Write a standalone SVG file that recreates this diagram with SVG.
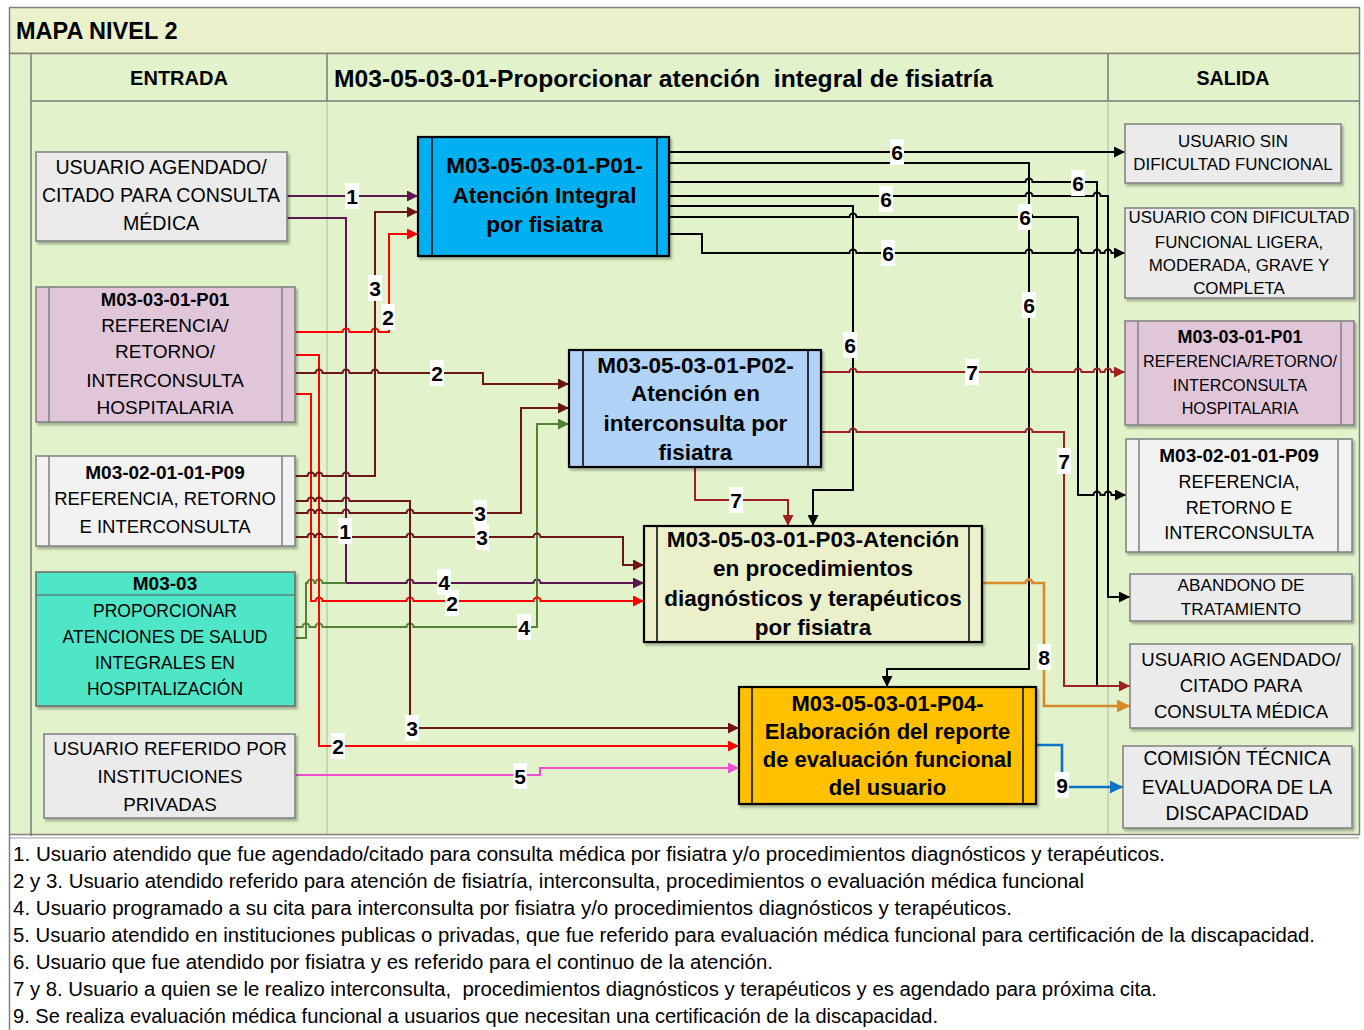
<svg xmlns="http://www.w3.org/2000/svg" width="1364" height="1030" viewBox="0 0 1364 1030">
<style>
text{font-family:"Liberation Sans",Arial,sans-serif;fill:#000}
.b{font-weight:bold}
.c{text-anchor:middle}
.ln{fill:none;stroke-width:2}
.blk{stroke:#000}.pur{stroke:#5a1650}.brn{stroke:#6e1616}.red{stroke:#ff0000}.grn{stroke:#548235}
.pnk{stroke:#ef4fcf}.dr{stroke:#a21f1f}.org{stroke:#d88a2a;stroke-width:2.6}.blu{stroke:#0b74c6;stroke-width:2.6}
.gbox{fill:#ebebeb;stroke:#7f7f7f;stroke-width:1.5}
.wbox{fill:#f2f2f2;stroke:#7f7f7f;stroke-width:1.5}
.pbox{fill:#e1c6da;stroke:#7f7f7f;stroke-width:1.5}
.tbox{fill:#4fe6c8;stroke:#6a6a6a;stroke-width:1.5}
.mbox{stroke:#000;stroke-width:2.2}
.in{stroke:#000;stroke-width:1.5}
.ing{stroke:#7f7f7f;stroke-width:1.5}
.lb{fill:#fff}
.lt{font-weight:bold;font-size:21px;text-anchor:middle}
.lg{font-size:19.5px}
</style>
<defs>
<filter id="sh" x="-5%" y="-5%" width="115%" height="120%"><feDropShadow dx="2" dy="2.5" stdDeviation="1.2" flood-color="#000" flood-opacity="0.28"/></filter>
<marker id="a-blk" markerWidth="11" markerHeight="11" refX="11" refY="5.5" orient="auto" markerUnits="userSpaceOnUse"><path d="M0,0 L11,5.5 L0,11 z" fill="#000"/></marker>
<marker id="a-pur" markerWidth="11" markerHeight="11" refX="11" refY="5.5" orient="auto" markerUnits="userSpaceOnUse"><path d="M0,0 L11,5.5 L0,11 z" fill="#5a1650"/></marker>
<marker id="a-brn" markerWidth="11" markerHeight="11" refX="11" refY="5.5" orient="auto" markerUnits="userSpaceOnUse"><path d="M0,0 L11,5.5 L0,11 z" fill="#6e1616"/></marker>
<marker id="a-red" markerWidth="11" markerHeight="11" refX="11" refY="5.5" orient="auto" markerUnits="userSpaceOnUse"><path d="M0,0 L11,5.5 L0,11 z" fill="#ff0000"/></marker>
<marker id="a-grn" markerWidth="11" markerHeight="11" refX="11" refY="5.5" orient="auto" markerUnits="userSpaceOnUse"><path d="M0,0 L11,5.5 L0,11 z" fill="#548235"/></marker>
<marker id="a-pnk" markerWidth="11" markerHeight="11" refX="11" refY="5.5" orient="auto" markerUnits="userSpaceOnUse"><path d="M0,0 L11,5.5 L0,11 z" fill="#ef4fcf"/></marker>
<marker id="a-dr" markerWidth="11" markerHeight="11" refX="11" refY="5.5" orient="auto" markerUnits="userSpaceOnUse"><path d="M0,0 L11,5.5 L0,11 z" fill="#a21f1f"/></marker>
<marker id="a-org" markerWidth="13" markerHeight="13" refX="13" refY="6.5" orient="auto" markerUnits="userSpaceOnUse"><path d="M0,0 L13,6.5 L0,13 z" fill="#d88a2a"/></marker>
<marker id="a-blu" markerWidth="13" markerHeight="13" refX="13" refY="6.5" orient="auto" markerUnits="userSpaceOnUse"><path d="M0,0 L13,6.5 L0,13 z" fill="#0b74c6"/></marker>
</defs>

<!-- background / frame -->
<g id="frame">
<rect x="0" y="0" width="1364" height="1030" fill="#fff"/>
<rect x="9.5" y="7.5" width="1350" height="46" fill="#ebf1ca" stroke="#808080" stroke-width="1.5"/>
<rect x="9.5" y="53.5" width="1350" height="781" fill="#e2f2ca" stroke="#808080" stroke-width="1.5"/>
<line x1="31" y1="53" x2="31" y2="836" stroke="#7a7a7a" stroke-width="1.5"/>
<line x1="31" y1="101" x2="1359" y2="101" stroke="#7a7a7a" stroke-width="1.5"/>
<line x1="327" y1="53" x2="327" y2="101" stroke="#7a7a7a" stroke-width="1.5"/>
<line x1="1108" y1="53" x2="1108" y2="101" stroke="#7a7a7a" stroke-width="1.5"/>
<line x1="327" y1="101" x2="327" y2="834" stroke="#a9bc9e" stroke-width="1"/>
<line x1="1108" y1="101" x2="1108" y2="834" stroke="#a9bc9e" stroke-width="1"/>
<line x1="9.5" y1="838" x2="1359" y2="838" stroke="#9a9a9a" stroke-width="1"/>
<line x1="9.5" y1="834" x2="9.5" y2="1030" stroke="#808080" stroke-width="1.5"/>
<text x="16" y="39" class="b" font-size="23.5">MAPA NIVEL 2</text>
<text x="179" y="85" class="b c" font-size="20">ENTRADA</text>
<text x="334" y="87" class="b" font-size="23.5" textLength="659" lengthAdjust="spacingAndGlyphs" style="white-space:pre">M03-05-03-01-Proporcionar atención  integral de fisiatría</text>
<text x="1233" y="85" class="b c" font-size="19.6">SALIDA</text>
</g>

<!-- connectors -->
<g id="connectors">
<path class="ln pur" d="M287,196 H418" marker-end="url(#a-pur)"/>
<path class="ln pur" d="M287,218 H346 V583 H406.5 a3.5,3.5 0 0 1 7,0 H533.5 a3.5,3.5 0 0 1 7,0 H644" marker-end="url(#a-pur)"/>
<path class="ln grn" d="M295,638 H306 V583 H307.5 a3.5,3.5 0 0 1 7,0 H315.5 a3.5,3.5 0 0 1 7,0 H346"/>
<path class="ln grn" d="M295,627 H302.5 a3.5,3.5 0 0 1 7,0 H315.5 a3.5,3.5 0 0 1 7,0 H406.5 a3.5,3.5 0 0 1 7,0 H537 V424 H569" marker-end="url(#a-grn)"/>
<path class="ln red" d="M295,332 H342.5 a3.5,3.5 0 0 1 7,0 H371.5 a3.5,3.5 0 0 1 7,0 H389 V234 H418" marker-end="url(#a-red)"/>
<path class="ln red" d="M295,355 H319 V746 H739" marker-end="url(#a-red)"/>
<path class="ln red" d="M295,394 H311 V601 H315.5 a3.5,3.5 0 0 1 7,0 H406.5 a3.5,3.5 0 0 1 7,0 H533.5 a3.5,3.5 0 0 1 7,0 H644" marker-end="url(#a-red)"/>
<path class="ln brn" d="M295,373 H315.5 a3.5,3.5 0 0 1 7,0 H342.5 a3.5,3.5 0 0 1 7,0 H371.5 a3.5,3.5 0 0 1 7,0 H483 V384 H569" marker-end="url(#a-brn)"/>
<path class="ln brn" d="M295,476 H307.5 a3.5,3.5 0 0 1 7,0 H315.5 a3.5,3.5 0 0 1 7,0 H342.5 a3.5,3.5 0 0 1 7,0 H375 V212 H418" marker-end="url(#a-brn)"/>
<path class="ln brn" d="M295,501 H307.5 a3.5,3.5 0 0 1 7,0 H315.5 a3.5,3.5 0 0 1 7,0 H342.5 a3.5,3.5 0 0 1 7,0 H410 V728 H739" marker-end="url(#a-brn)"/>
<path class="ln brn" d="M295,513 H307.5 a3.5,3.5 0 0 1 7,0 H315.5 a3.5,3.5 0 0 1 7,0 H342.5 a3.5,3.5 0 0 1 7,0 H406.5 a3.5,3.5 0 0 1 7,0 H521 V408 H569" marker-end="url(#a-brn)"/>
<path class="ln brn" d="M295,537 H307.5 a3.5,3.5 0 0 1 7,0 H315.5 a3.5,3.5 0 0 1 7,0 H342.5 a3.5,3.5 0 0 1 7,0 H406.5 a3.5,3.5 0 0 1 7,0 H533.5 a3.5,3.5 0 0 1 7,0 H623 V565 H644" marker-end="url(#a-brn)"/>
<path class="ln pnk" d="M295,775 H540 V768 H739" marker-end="url(#a-pnk)"/>
<path class="ln blk" d="M669,152 H1125" marker-end="url(#a-blk)"/>
<path class="ln blk" d="M669,163 H1029 V669 H887 V687" marker-end="url(#a-blk)"/>
<path class="ln blk" d="M669,182 H1025.5 a3.5,3.5 0 0 1 7,0 H1097 V686"/>
<path class="ln blk" d="M669,196 H1025.5 a3.5,3.5 0 0 1 7,0 H1093.5 a3.5,3.5 0 0 1 7,0 H1108 V597 H1130" marker-end="url(#a-blk)"/>
<path class="ln blk" d="M669,206 H853 V490 H813 V526" marker-end="url(#a-blk)"/>
<path class="ln blk" d="M669,217 H849.5 a3.5,3.5 0 0 1 7,0 H1025.5 a3.5,3.5 0 0 1 7,0 H1078 V495 H1093.5 a3.5,3.5 0 0 1 7,0 H1104.5 a3.5,3.5 0 0 1 7,0 H1126" marker-end="url(#a-blk)"/>
<path class="ln blk" d="M669,234 H702 V253 H849.5 a3.5,3.5 0 0 1 7,0 H1025.5 a3.5,3.5 0 0 1 7,0 H1074.5 a3.5,3.5 0 0 1 7,0 H1093.5 a3.5,3.5 0 0 1 7,0 H1104.5 a3.5,3.5 0 0 1 7,0 H1125" marker-end="url(#a-blk)"/>
<path class="ln dr" d="M821,372 H849.5 a3.5,3.5 0 0 1 7,0 H1025.5 a3.5,3.5 0 0 1 7,0 H1074.5 a3.5,3.5 0 0 1 7,0 H1093.5 a3.5,3.5 0 0 1 7,0 H1104.5 a3.5,3.5 0 0 1 7,0 H1125" marker-end="url(#a-dr)"/>
<path class="ln dr" d="M821,432 H849.5 a3.5,3.5 0 0 1 7,0 H1025.5 a3.5,3.5 0 0 1 7,0 H1064 V686 H1130" marker-end="url(#a-dr)"/>
<path class="ln dr" d="M695,467 V500 H788 V526" marker-end="url(#a-dr)"/>
<path class="ln org" d="M982,583 H1025.5 a3.5,3.5 0 0 1 7,0 H1044 V706 H1130" marker-end="url(#a-org)"/>
<path class="ln blu" d="M1036,745 H1062 V787 H1123" marker-end="url(#a-blu)"/>

<g id="labels">
<rect class="lb" x="345" y="183" width="14" height="26"/><text class="lt" x="352" y="203.5">1</text>
<rect class="lb" x="368" y="275" width="14" height="26"/><text class="lt" x="375" y="295.5">3</text>
<rect class="lb" x="381" y="304" width="14" height="26"/><text class="lt" x="388" y="324.5">2</text>
<rect class="lb" x="430" y="360" width="14" height="26"/><text class="lt" x="437" y="380.5">2</text>
<rect class="lb" x="338" y="518" width="14" height="26"/><text class="lt" x="345" y="538.5">1</text>
<rect class="lb" x="473" y="500" width="14" height="26"/><text class="lt" x="480" y="520.5">3</text>
<rect class="lb" x="475" y="524" width="14" height="26"/><text class="lt" x="482" y="544.5">3</text>
<rect class="lb" x="437" y="569" width="14" height="26"/><text class="lt" x="444" y="589.5">4</text>
<rect class="lb" x="445" y="590" width="14" height="26"/><text class="lt" x="452" y="610.5">2</text>
<rect class="lb" x="517" y="614" width="14" height="26"/><text class="lt" x="524" y="634.5">4</text>
<rect class="lb" x="405" y="715" width="14" height="26"/><text class="lt" x="412" y="735.5">3</text>
<rect class="lb" x="331" y="733" width="14" height="26"/><text class="lt" x="338" y="753.5">2</text>
<rect class="lb" x="513" y="763" width="14" height="26"/><text class="lt" x="520" y="783.5">5</text>
<rect class="lb" x="890" y="139" width="14" height="26"/><text class="lt" x="897" y="159.5">6</text>
<rect class="lb" x="879" y="186" width="14" height="26"/><text class="lt" x="886" y="206.5">6</text>
<rect class="lb" x="881" y="240" width="14" height="26"/><text class="lt" x="888" y="260.5">6</text>
<rect class="lb" x="1071" y="170" width="14" height="26"/><text class="lt" x="1078" y="190.5">6</text>
<rect class="lb" x="1018" y="204" width="14" height="26"/><text class="lt" x="1025" y="224.5">6</text>
<rect class="lb" x="1022" y="292" width="14" height="26"/><text class="lt" x="1029" y="312.5">6</text>
<rect class="lb" x="843" y="332" width="14" height="26"/><text class="lt" x="850" y="352.5">6</text>
<rect class="lb" x="965" y="359" width="14" height="26"/><text class="lt" x="972" y="379.5">7</text>
<rect class="lb" x="1057" y="448" width="14" height="26"/><text class="lt" x="1064" y="468.5">7</text>
<rect class="lb" x="729" y="487" width="14" height="26"/><text class="lt" x="736" y="507.5">7</text>
<rect class="lb" x="1037" y="644" width="14" height="26"/><text class="lt" x="1044" y="664.5">8</text>
<rect class="lb" x="1055" y="772" width="14" height="26"/><text class="lt" x="1062" y="792.5">9</text>
</g>
</g>

<g id="in-usuario-agendado">
<rect class="gbox" x="36" y="152" width="251" height="89" filter="url(#sh)"/>
<text class="c" font-size="19.6" x="161" y="174">USUARIO AGENDADO/</text>
<text class="c" font-size="19.6" x="161" y="202">CITADO PARA CONSULTA</text>
<text class="c" font-size="19.6" x="161" y="230">MÉDICA</text>
</g>
<g id="in-m03-03-01-p01">
<rect class="pbox" x="36" y="287" width="259" height="135" filter="url(#sh)"/>
<line class="ing" x1="49" y1="287" x2="49" y2="422"/><line class="ing" x1="282" y1="287" x2="282" y2="422"/>
<text class="b c" font-size="18.5" x="165" y="305.5">M03-03-01-P01</text>
<text class="c" font-size="19" x="165" y="332">REFERENCIA/</text>
<text class="c" font-size="19" x="165" y="358">RETORNO/</text>
<text class="c" font-size="19" x="165" y="387">INTERCONSULTA</text>
<text class="c" font-size="19" x="165" y="414">HOSPITALARIA</text>
</g>
<g id="in-m03-02-01-01-p09">
<rect class="wbox" x="36" y="456" width="259" height="90" filter="url(#sh)"/>
<line class="ing" x1="49" y1="456" x2="49" y2="546"/><line class="ing" x1="282" y1="456" x2="282" y2="546"/>
<text class="b c" font-size="19" x="165" y="479">M03-02-01-01-P09</text>
<text class="c" font-size="18.5" x="165" y="505">REFERENCIA, RETORNO</text>
<text class="c" font-size="18.5" x="165" y="533">E INTERCONSULTA</text>
</g>
<g id="in-m03-03">
<rect class="tbox" x="36" y="572" width="259" height="134" filter="url(#sh)"/>
<line stroke="#555" stroke-width="1.2" x1="36" y1="595" x2="295" y2="595"/>
<text class="b c" font-size="19" x="165" y="590">M03-03</text>
<text class="c" font-size="17.5" x="165" y="617">PROPORCIONAR</text>
<text class="c" font-size="17.5" x="165" y="643">ATENCIONES DE SALUD</text>
<text class="c" font-size="17.5" x="165" y="669">INTEGRALES EN</text>
<text class="c" font-size="17.5" x="165" y="695">HOSPITALIZACIÓN</text>
</g>
<g id="in-usuario-referido">
<rect class="gbox" x="44" y="734" width="251" height="84" filter="url(#sh)"/>
<text class="c" font-size="18.8" x="170" y="755">USUARIO REFERIDO POR</text>
<text class="c" font-size="18.8" x="170" y="783">INSTITUCIONES</text>
<text class="c" font-size="18.8" x="170" y="811">PRIVADAS</text>
</g>

<g id="p01">
<rect class="mbox" x="418" y="137" width="251" height="119" fill="#00b0f0" filter="url(#sh)"/>
<line class="in" x1="432" y1="137" x2="432" y2="256"/><line class="in" x1="657" y1="137" x2="657" y2="256"/>
<text class="b c" font-size="22.5" x="544.5" y="173">M03-05-03-01-P01-</text>
<text class="b c" font-size="22.5" x="544.5" y="203">Atención Integral</text>
<text class="b c" font-size="22.5" x="544.5" y="232">por fisiatra</text>
</g>
<g id="p02">
<rect class="mbox" x="569" y="350" width="252" height="117" fill="#b1d3f7" filter="url(#sh)"/>
<line class="in" x1="583" y1="350" x2="583" y2="467"/><line class="in" x1="808" y1="350" x2="808" y2="467"/>
<text class="b c" font-size="22.5" x="695.5" y="373">M03-05-03-01-P02-</text>
<text class="b c" font-size="22.5" x="695.5" y="401">Atención en</text>
<text class="b c" font-size="22.5" x="695.5" y="431">interconsulta por</text>
<text class="b c" font-size="22.5" x="695.5" y="460">fisiatra</text>
</g>
<g id="p03">
<rect class="mbox" x="644" y="526" width="338" height="116" fill="#ebf0ca" filter="url(#sh)"/>
<line class="in" x1="657" y1="526" x2="657" y2="642"/><line class="in" x1="969" y1="526" x2="969" y2="642"/>
<text class="b c" font-size="22.5" x="813" y="547">M03-05-03-01-P03-Atención</text>
<text class="b c" font-size="22.5" x="813" y="576">en procedimientos</text>
<text class="b c" font-size="22.5" x="813" y="606">diagnósticos y terapéuticos</text>
<text class="b c" font-size="22.5" x="813" y="635">por fisiatra</text>
</g>
<g id="p04">
<rect class="mbox" x="739" y="687" width="297" height="117" fill="#ffc000" filter="url(#sh)"/>
<line class="in" x1="752" y1="687" x2="752" y2="804"/><line class="in" x1="1023" y1="687" x2="1023" y2="804"/>
<text class="b c" font-size="22" x="887.5" y="711">M03-05-03-01-P04-</text>
<text class="b c" font-size="22" x="887.5" y="739">Elaboración del reporte</text>
<text class="b c" font-size="22" x="887.5" y="767">de evaluación funcional</text>
<text class="b c" font-size="22" x="887.5" y="795">del usuario</text>
</g>

<g id="out-sin-dificultad">
<rect class="gbox" x="1125" y="124" width="216" height="59" filter="url(#sh)"/>
<text class="c" font-size="16.9" x="1233" y="147">USUARIO SIN</text>
<text class="c" font-size="16.9" x="1233" y="170">DIFICULTAD FUNCIONAL</text>
</g>
<g id="out-con-dificultad">
<rect class="gbox" x="1125" y="208" width="229" height="90" filter="url(#sh)"/>
<text class="c" font-size="16.9" x="1239" y="223">USUARIO CON DIFICULTAD</text>
<text class="c" font-size="16.9" x="1239" y="248">FUNCIONAL LIGERA,</text>
<text class="c" font-size="16.9" x="1239" y="271">MODERADA, GRAVE Y</text>
<text class="c" font-size="16.9" x="1239" y="294">COMPLETA</text>
</g>
<g id="out-m03-03-01-p01">
<rect class="pbox" x="1125" y="321" width="229" height="104" filter="url(#sh)"/>
<line class="ing" x1="1138" y1="321" x2="1138" y2="425"/><line class="ing" x1="1341" y1="321" x2="1341" y2="425"/>
<text class="b c" font-size="18" x="1240" y="343">M03-03-01-P01</text>
<text class="c" font-size="16.2" x="1240" y="367">REFERENCIA/RETORNO/</text>
<text class="c" font-size="16.2" x="1240" y="391">INTERCONSULTA</text>
<text class="c" font-size="16.2" x="1240" y="414">HOSPITALARIA</text>
</g>
<g id="out-m03-02-01-01-p09">
<rect class="wbox" x="1126" y="439" width="226" height="113" filter="url(#sh)"/>
<line class="ing" x1="1139" y1="439" x2="1139" y2="552"/><line class="ing" x1="1338" y1="439" x2="1338" y2="552"/>
<text class="b c" font-size="19" x="1239" y="462">M03-02-01-01-P09</text>
<text class="c" font-size="18" x="1239" y="488">REFERENCIA,</text>
<text class="c" font-size="18" x="1239" y="514">RETORNO E</text>
<text class="c" font-size="18" x="1239" y="539">INTERCONSULTA</text>
</g>
<g id="out-abandono">
<rect class="gbox" x="1130" y="574" width="222" height="47" filter="url(#sh)"/>
<text class="c" font-size="17.2" x="1241" y="591">ABANDONO DE</text>
<text class="c" font-size="17.2" x="1241" y="615">TRATAMIENTO</text>
</g>
<g id="out-usuario-agendado">
<rect class="gbox" x="1130" y="644" width="222" height="84" filter="url(#sh)"/>
<text class="c" font-size="18.5" x="1241" y="666">USUARIO AGENDADO/</text>
<text class="c" font-size="18.5" x="1241" y="692">CITADO PARA</text>
<text class="c" font-size="18.5" x="1241" y="718">CONSULTA MÉDICA</text>
</g>
<g id="out-comision">
<rect class="gbox" x="1123" y="746" width="229" height="82" filter="url(#sh)"/>
<text class="c" font-size="19.3" x="1237" y="765">COMISIÓN TÉCNICA</text>
<text class="c" font-size="19.3" x="1237" y="794">EVALUADORA DE LA</text>
<text class="c" font-size="19.3" x="1237" y="820">DISCAPACIDAD</text>
</g>

<g id="legend">
<text class="lg" x="13" y="861" textLength="1152" lengthAdjust="spacingAndGlyphs">1. Usuario atendido que fue agendado/citado para consulta médica por fisiatra y/o procedimientos diagnósticos y terapéuticos.</text>
<text class="lg" x="13" y="888" textLength="1071" lengthAdjust="spacingAndGlyphs">2 y 3. Usuario atendido referido para atención de fisiatría, interconsulta, procedimientos o evaluación médica funcional</text>
<text class="lg" x="13" y="915" textLength="999" lengthAdjust="spacingAndGlyphs">4. Usuario programado a su cita para interconsulta por fisiatra y/o procedimientos diagnósticos y terapéuticos.</text>
<text class="lg" x="13" y="942" textLength="1302" lengthAdjust="spacingAndGlyphs">5. Usuario atendido en instituciones publicas o privadas, que fue referido para evaluación médica funcional para certificación de la discapacidad.</text>
<text class="lg" x="13" y="969" textLength="760" lengthAdjust="spacingAndGlyphs">6. Usuario que fue atendido por fisiatra y es referido para el continuo de la atención.</text>
<text class="lg" x="13" y="996" textLength="1144" lengthAdjust="spacingAndGlyphs" style="white-space:pre">7 y 8. Usuario a quien se le realizo interconsulta,  procedimientos diagnósticos y terapéuticos y es agendado para próxima cita.</text>
<text class="lg" x="13" y="1023" textLength="925" lengthAdjust="spacingAndGlyphs">9. Se realiza evaluación médica funcional a usuarios que necesitan una certificación de la discapacidad.</text>
</g>
</svg>
